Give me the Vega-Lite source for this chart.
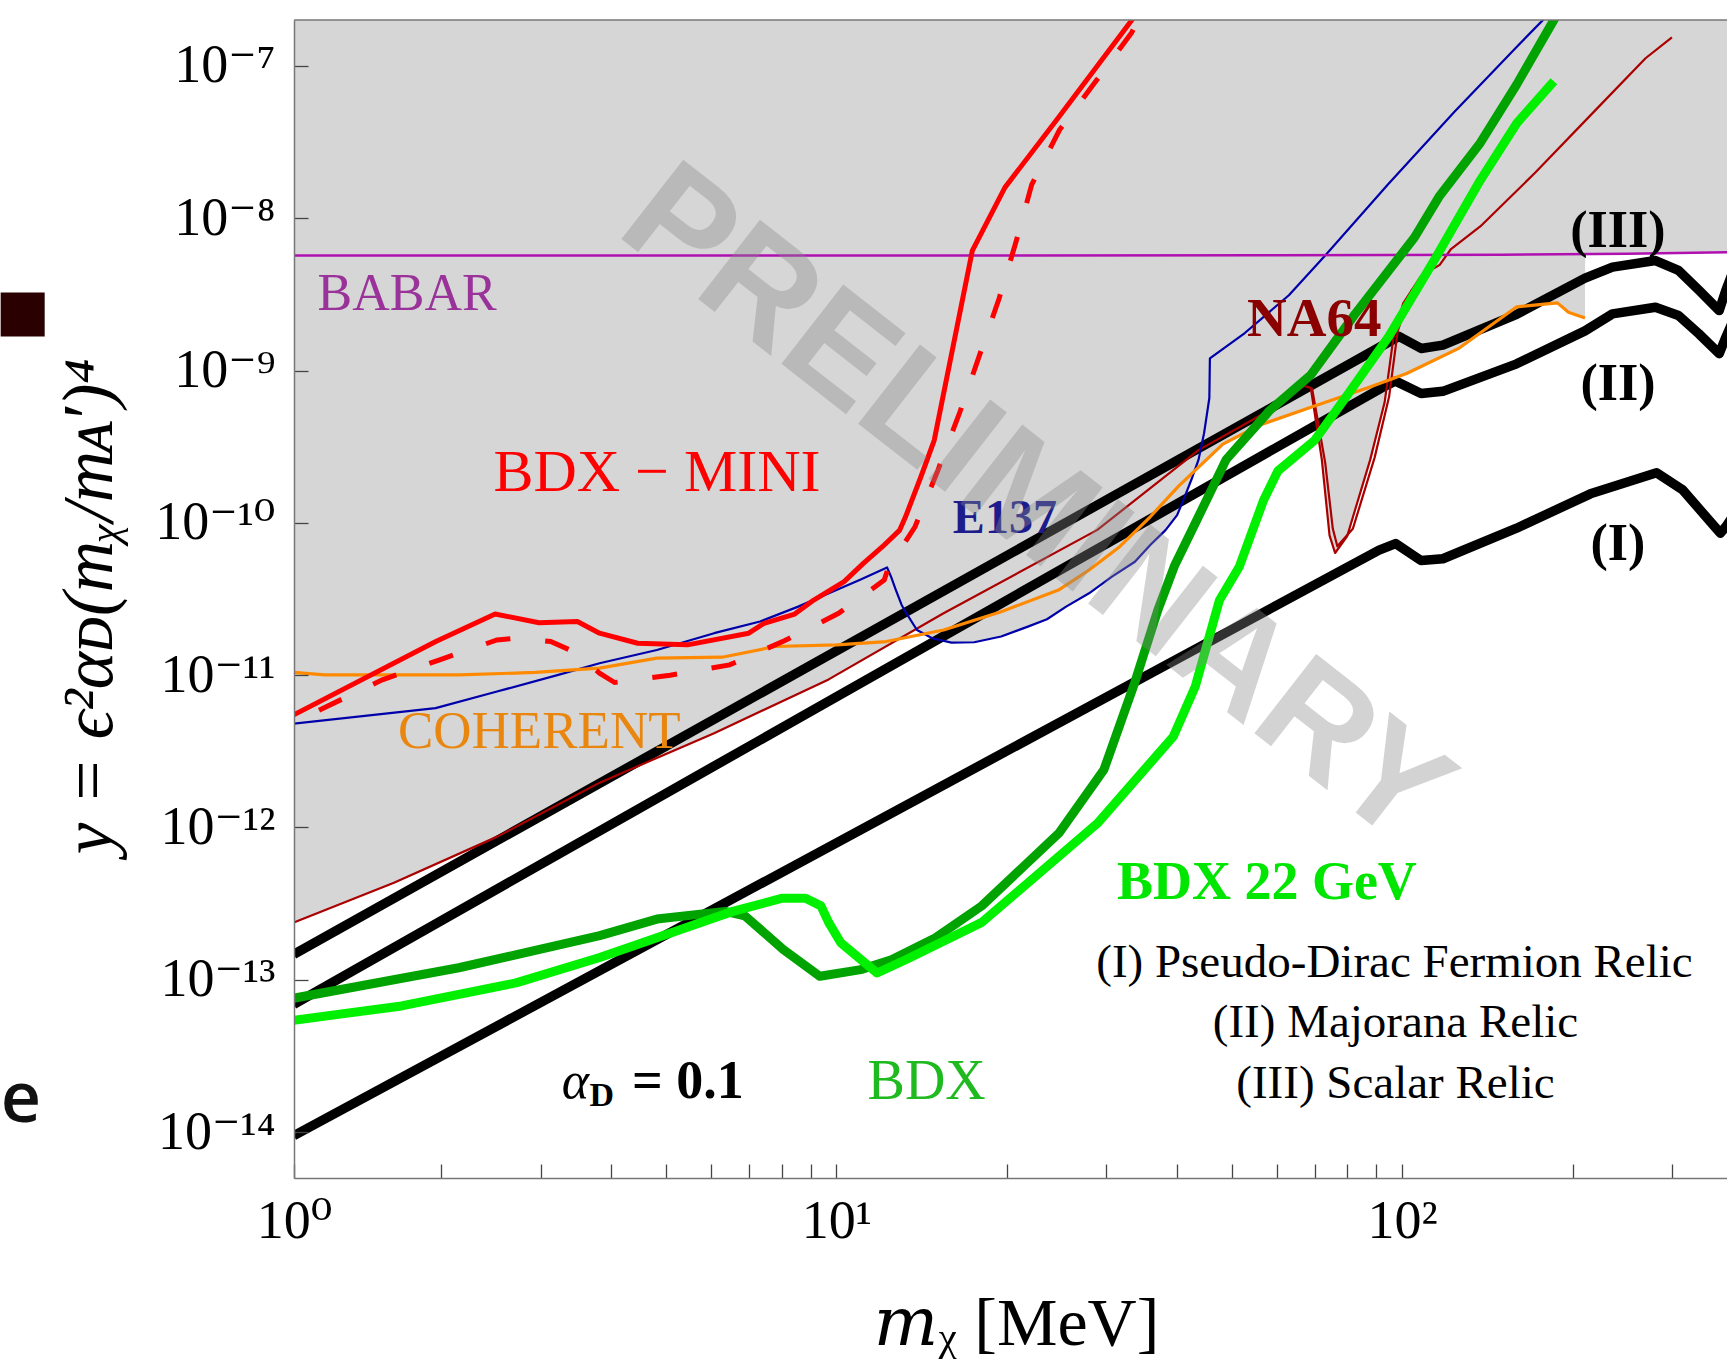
{
  "$schema": "https://vega.github.io/schema/vega-lite/v6.json",
  "width": 1433,
  "height": 1158,
  "autosize": {"type": "none"},
  "padding": {"left": 294, "top": 20, "right": 0, "bottom": 181},
  "background": "white",
  "config": {"view": {"stroke": null}},
  "datasets": {
    "xgrid": [{"x":2},{"x":3},{"x":4},{"x":5},{"x":6},{"x":7},{"x":8},{"x":9},{"x":10},{"x":20},{"x":30},{"x":40},{"x":50},{"x":60},{"x":70},{"x":80},{"x":90},{"x":100},{"x":200},{"x":300}],
    "ygrid": [{"y":6e-15},{"y":8e-15},{"y":1e-14},{"y":2e-14},{"y":4e-14},{"y":6e-14},{"y":8e-14},{"y":1e-13},{"y":2e-13},{"y":4e-13},{"y":6e-13},{"y":8e-13},{"y":1e-12},{"y":2e-12},{"y":4e-12},{"y":6e-12},{"y":8e-12},{"y":1e-11},{"y":2e-11},{"y":4e-11},{"y":6e-11},{"y":8e-11},{"y":1e-10},{"y":2e-10},{"y":4e-10},{"y":6e-10},{"y":8e-10},{"y":1e-9},{"y":2e-9},{"y":4e-9},{"y":6e-9},{"y":8e-9},{"y":1e-8},{"y":2e-8},{"y":4e-8},{"y":6e-8},{"y":8e-8},{"y":1e-7}],
    "excluded": [{"x":1.099,"y":2.38e-13},{"x":1.652,"y":4.34e-13},{"x":2.516,"y":8.71e-13},{"x":3.817,"y":1.97e-12},{"x":6.08,"y":4.16e-12},{"x":9.69,"y":9.38e-12},{"x":13.87,"y":2.0e-11},{"x":14.77,"y":1.747e-11},{"x":15.97,"y":1.637e-11},{"x":17.52,"y":1.645e-11},{"x":19.55,"y":1.794e-11},{"x":21.8,"y":2.083e-11},{"x":23.56,"y":2.328e-11},{"x":25.47,"y":2.818e-11},{"x":27.96,"y":3.446e-11},{"x":30.7,"y":4.43e-11},{"x":33.7,"y":5.55e-11},{"x":35.87,"y":7.15e-11},{"x":38.17,"y":8.96e-11},{"x":40.01,"y":1.123e-10},{"x":41.26,"y":1.48e-10},{"x":42.58,"y":2.0e-10},{"x":42.89,"y":2.17e-10},{"x":48.2,"y":3.29e-10},{"x":55.95,"y":4.38e-10},{"x":67.1,"y":5.59e-10},{"x":69.9,"y":5.98e-10},{"x":72.1,"y":2.6e-10},{"x":74.4,"y":8.28e-11},{"x":76.1,"y":6.34e-11},{"x":79.9,"y":8.14e-11},{"x":87.8,"y":2.6e-10},{"x":93.1,"y":6.18e-10},{"x":94.2,"y":8.62e-10},{"x":101.8,"y":9.55e-10},{"x":125.6,"y":1.391e-9},{"x":159.4,"y":2.62e-9},{"x":188.1,"y":2.78e-9},{"x":196.7,"y":2.41e-9},{"x":210.4,"y":2.21e-9},{"x":210.5,"y":5.83e-9},{"x":250,"y":5.85e-9},{"x":380,"y":5.97e-9}],
    "relic1": [{"x":1.099,"y":9.48e-15},{"x":91.0,"y":6.62e-11},{"x":97.34,"y":7.31e-11},{"x":108.0,"y":5.65e-11},{"x":118.0,"y":5.81e-11},{"x":159.3,"y":9.22e-11},{"x":215.1,"y":1.55e-10},{"x":281.5,"y":2.13e-10},{"x":313.4,"y":1.641e-10},{"x":358.5,"y":9.22e-11},{"x":365.0,"y":8.55e-11},{"x":373.3,"y":9.45e-11},{"x":385,"y":1.116e-10}],
    "relic2": [{"x":1.099,"y":6.91e-14},{"x":91.85,"y":7.67e-10},{"x":97.34,"y":8.52e-10},{"x":108.0,"y":7.06e-10},{"x":118.0,"y":7.3e-10},{"x":159.3,"y":1.106e-9},{"x":210.4,"y":1.82e-9},{"x":235.3,"y":2.355e-9},{"x":280.3,"y":2.6e-9},{"x":307.8,"y":2.297e-9},{"x":334.4,"y":1.743e-9},{"x":363.3,"y":1.289e-9},{"x":373.3,"y":1.656e-9},{"x":385,"y":2.15e-9}],
    "relic3": [{"x":1.099,"y":1.47e-13},{"x":91.85,"y":1.443e-9},{"x":98.67,"y":1.676e-9},{"x":108.0,"y":1.396e-9},{"x":118.0,"y":1.467e-9},{"x":159.3,"y":2.336e-9},{"x":210.4,"y":4.04e-9},{"x":235.3,"y":4.77e-9},{"x":280.3,"y":5.27e-9},{"x":307.8,"y":4.54e-9},{"x":334.4,"y":3.37e-9},{"x":363.3,"y":2.476e-9},{"x":373.3,"y":3.37e-9},{"x":385,"y":4.54e-9}],
    "na64": [{"x":1.099,"y":2.38e-13},{"x":1.652,"y":4.34e-13},{"x":2.516,"y":8.71e-13},{"x":3.817,"y":1.97e-12},{"x":6.08,"y":4.16e-12},{"x":9.69,"y":9.38e-12},{"x":15.44,"y":2.54e-11},{"x":28.92,"y":8.99e-11},{"x":43.66,"y":3.0e-10},{"x":58.4,"y":5.5e-10},{"x":67.1,"y":7.93e-10},{"x":68.95,"y":7.67e-10},{"x":72.1,"y":2.6e-10},{"x":74.4,"y":8.28e-11},{"x":76.1,"y":6.34e-11},{"x":79.9,"y":8.14e-11},{"x":87.8,"y":2.6e-10},{"x":93.1,"y":6.18e-10},{"x":96.5,"y":1.648e-9},{"x":100.4,"y":2.76e-9},{"x":108.0,"y":4.18e-9},{"x":116.5,"y":4.94e-9},{"x":121.8,"y":6.23e-9},{"x":137.4,"y":8.83e-9},{"x":171.9,"y":1.993e-8},{"x":215.1,"y":4.73e-8},{"x":269.2,"y":1.122e-7},{"x":299.7,"y":1.539e-7}],
    "na64b": [{"x":69.27,"y":7.67e-10},{"x":73.1,"y":2.48e-10},{"x":75.4,"y":9.14e-11},{"x":76.8,"y":7.01e-11},{"x":81.8,"y":9.14e-11},{"x":89.4,"y":2.69e-10},{"x":94.8,"y":6.72e-10},{"x":98.2,"y":1.82e-9},{"x":104.1,"y":3.42e-9}],
    "e137": [{"x":1.099,"y":4.8e-12},{"x":1.957,"y":6.08e-12},{"x":2.513,"y":7.81e-12},{"x":3.224,"y":1.004e-11},{"x":3.814,"y":1.197e-11},{"x":4.816,"y":1.464e-11},{"x":6.08,"y":1.886e-11},{"x":7.33,"y":2.249e-11},{"x":8.56,"y":2.818e-11},{"x":9.7,"y":3.446e-11},{"x":10.99,"y":4.214e-11},{"x":12.29,"y":5.1e-11},{"x":12.49,"y":4.43e-11},{"x":12.74,"y":3.62e-11},{"x":13.04,"y":2.89e-11},{"x":13.35,"y":2.485e-11},{"x":13.88,"y":1.98e-11},{"x":14.77,"y":1.747e-11},{"x":15.97,"y":1.637e-11},{"x":17.52,"y":1.645e-11},{"x":19.55,"y":1.794e-11},{"x":21.8,"y":2.083e-11},{"x":23.56,"y":2.328e-11},{"x":25.47,"y":2.818e-11},{"x":27.96,"y":3.446e-11},{"x":30.7,"y":4.43e-11},{"x":33.7,"y":5.55e-11},{"x":35.87,"y":7.15e-11},{"x":38.17,"y":8.96e-11},{"x":40.01,"y":1.123e-10},{"x":41.26,"y":1.48e-10},{"x":42.58,"y":2.0e-10},{"x":43.66,"y":2.6e-10},{"x":44.65,"y":3.88e-10},{"x":45.62,"y":6.6e-10},{"x":45.72,"y":1.201e-9},{"x":52.7,"y":1.762e-9},{"x":63.05,"y":3.12e-9},{"x":73.23,"y":5.73e-9},{"x":94.34,"y":1.666e-8},{"x":123.7,"y":4.99e-8},{"x":159.3,"y":1.332e-7},{"x":177.2,"y":1.995e-7},{"x":185,"y":2.35e-7}],
    "coherent": [{"x":1.099,"y":1.042e-11},{"x":1.247,"y":1.004e-11},{"x":2.151,"y":1.004e-11},{"x":2.937,"y":1.042e-11},{"x":3.814,"y":1.111e-11},{"x":4.816,"y":1.293e-11},{"x":6.28,"y":1.312e-11},{"x":7.8,"y":1.542e-11},{"x":10.01,"y":1.581e-11},{"x":12.25,"y":1.662e-11},{"x":15.47,"y":1.98e-11},{"x":19.55,"y":2.61e-11},{"x":24.69,"y":3.62e-11},{"x":27.97,"y":4.9e-11},{"x":31.67,"y":6.97e-11},{"x":35.87,"y":1.096e-10},{"x":40.25,"y":1.74e-10},{"x":48.2,"y":3.29e-10},{"x":55.95,"y":4.38e-10},{"x":70.0,"y":5.85e-10},{"x":87.7,"y":7.8e-10},{"x":101.8,"y":9.55e-10},{"x":125.6,"y":1.391e-9},{"x":159.4,"y":2.62e-9},{"x":188.1,"y":2.78e-9},{"x":196.7,"y":2.41e-9},{"x":210.4,"y":2.21e-9}],
    "babar": [{"x":1.09,"y":5.68e-9},{"x":60,"y":5.7e-9},{"x":150,"y":5.76e-9},{"x":250,"y":5.85e-9},{"x":380,"y":5.97e-9}],
    "mini": [{"x":1.099,"y":5.49e-12},{"x":1.959,"y":1.662e-11},{"x":2.494,"y":2.52e-11},{"x":2.982,"y":2.21e-11},{"x":3.485,"y":2.249e-11},{"x":3.814,"y":1.886e-11},{"x":4.455,"y":1.621e-11},{"x":5.455,"y":1.581e-11},{"x":7.0,"y":1.886e-11},{"x":7.45,"y":2.19e-11},{"x":8.44,"y":2.52e-11},{"x":9.12,"y":3.11e-11},{"x":10.32,"y":4.11e-11},{"x":11.16,"y":5.42e-11},{"x":12.06,"y":6.97e-11},{"x":12.94,"y":8.96e-11},{"x":13.25,"y":1.096e-10},{"x":14.1,"y":2.0e-10},{"x":14.89,"y":3.48e-10},{"x":17.39,"y":6.13e-9},{"x":19.86,"y":1.593e-8},{"x":24.69,"y":4.58e-8},{"x":33.18,"y":1.969e-7},{"x":34.35,"y":2.34e-7}],
    "minidash": [{"x":1.218,"y":5.89e-12},{"x":1.576,"y":9.32e-12},{"x":1.99,"y":1.261e-11},{"x":2.513,"y":1.703e-11},{"x":2.716,"y":1.747e-11},{"x":3.126,"y":1.662e-11},{"x":3.431,"y":1.428e-11},{"x":3.814,"y":1.031e-11},{"x":4.056,"y":8.95e-12},{"x":5.085,"y":9.99e-12},{"x":6.475,"y":1.168e-11},{"x":8.11,"y":1.687e-11},{"x":10.09,"y":2.547e-11},{"x":12.15,"y":4.21e-11},{"x":12.34,"y":5.03e-11},{"x":13.77,"y":9.42e-11},{"x":15.12,"y":2.22e-10},{"x":16.53,"y":5.34e-10},{"x":17.9,"y":1.257e-9},{"x":19.39,"y":2.97e-9},{"x":20.76,"y":6.95e-9},{"x":22.14,"y":1.66e-8},{"x":24.8,"y":3.8e-8},{"x":28.69,"y":7.85e-8},{"x":33.25,"y":1.65e-7},{"x":34.5,"y":2.2e-7}],
    "bdx": [{"x":1.099,"y":7.57e-14},{"x":2.151,"y":1.2e-13},{"x":3.817,"y":1.95e-13},{"x":4.818,"y":2.505e-13},{"x":6.36,"y":2.814e-13},{"x":6.89,"y":2.633e-13},{"x":7.44,"y":2.052e-13},{"x":8.05,"y":1.586e-13},{"x":9.35,"y":1.055e-13},{"x":11.04,"y":1.166e-13},{"x":12.51,"y":1.354e-13},{"x":14.97,"y":1.888e-13},{"x":18.07,"y":3.058e-13},{"x":24.72,"y":9.16e-13},{"x":29.71,"y":2.4e-12},{"x":33.67,"y":8.92e-12},{"x":36.99,"y":2.67e-11},{"x":39.57,"y":5.2e-11},{"x":43.27,"y":1.027e-10},{"x":48.84,"y":2.6e-10},{"x":58.4,"y":5.5e-10},{"x":68.95,"y":9.37e-10},{"x":82.5,"y":2.34e-9},{"x":105.1,"y":7.47e-9},{"x":116.5,"y":1.406e-8},{"x":137.4,"y":3.12e-8},{"x":159.3,"y":7.53e-8},{"x":185.5,"y":2.01e-7},{"x":192.3,"y":2.45e-7}],
    "bdx22": [{"x":1.099,"y":5.43e-14},{"x":1.704,"y":6.74e-14},{"x":2.716,"y":9.55e-14},{"x":3.817,"y":1.4e-13},{"x":5.2,"y":2.086e-13},{"x":6.56,"y":2.814e-13},{"x":8.03,"y":3.435e-13},{"x":8.82,"y":3.435e-13},{"x":9.39,"y":3.058e-13},{"x":9.69,"y":2.383e-13},{"x":10.18,"y":1.752e-13},{"x":11.8,"y":1.109e-13},{"x":13.26,"y":1.355e-13},{"x":18.07,"y":2.383e-13},{"x":28.92,"y":1.063e-12},{"x":39.39,"y":3.95e-12},{"x":43.08,"y":8.42e-12},{"x":47.53,"y":3.1e-11},{"x":51.53,"y":5.15e-11},{"x":56.88,"y":1.408e-10},{"x":60.29,"y":2.19e-10},{"x":70.0,"y":3.48e-10},{"x":80.1,"y":6.94e-10},{"x":94.5,"y":1.654e-9},{"x":114.8,"y":5.56e-9},{"x":137.3,"y":1.765e-8},{"x":159.4,"y":4.2e-8},{"x":185.4,"y":7.92e-8}]
  },
  "encoding": {
    "x": {
      "field": "x", "type": "quantitative",
      "scale": {"type": "log", "domain": [1.1, 375], "nice": false},
      "axis": {
        "zindex": 1,
        "values": [1.1,2,3,4,5,6,7,8,9,10,20,30,40,50,60,70,80,90,100,200,300],
        "labelExpr": "datum.value == 10 ? '10¹' : datum.value == 100 ? '10²' : datum.value < 1.5 ? '10⁰' : ''",
        "labelFont": "Liberation Serif, DejaVu Serif", "labelFontSize": 54, "labelColor": "#000000",
        "labelPadding": 30, "labelFlush": false, "labelOverlap": false, "labelBound": false,
        "tickSize": -14, "tickColor": "#444444", "tickWidth": 1.3,
        "domainColor": "#777777", "domainWidth": 1.5,
        "grid": false,
        "title": "𝑚ᵪ [MeV]", "titleFont": "Liberation Serif, DejaVu Serif", "titleFontSize": 68, "titleFontWeight": "normal", "titleColor": "#000000",
        "titleX": 722, "titleY": 166, "titleAlign": "center", "titleBaseline": "alphabetic", "titleAngle": 0
      }
    },
    "y": {
      "field": "y", "type": "quantitative",
      "scale": {"type": "log", "domain": [5e-15, 2e-7], "nice": false},
      "axis": {
        "zindex": 1,
        "values": [1e-14,1e-13,1e-12,1e-11,1e-10,1e-9,1e-8,1e-7],
        "labelExpr": "datum.value == 1e-7 ? '10⁻⁷' : datum.value == 1e-8 ? '10⁻⁸' : datum.value == 1e-9 ? '10⁻⁹' : datum.value == 1e-10 ? '10⁻¹⁰' : datum.value == 1e-11 ? '10⁻¹¹' : datum.value == 1e-12 ? '10⁻¹²' : datum.value == 1e-13 ? '10⁻¹³' : datum.value == 1e-14 ? '10⁻¹⁴' : ''",
        "labelFont": "Liberation Serif, DejaVu Serif", "labelFontSize": 54, "labelColor": "#000000",
        "labelPadding": 33, "labelFlush": false, "labelOverlap": false, "labelBound": false,
        "tickSize": -14, "tickColor": "#444444", "tickWidth": 1.3,
        "domainColor": "#777777", "domainWidth": 1.5,
        "grid": false,
        "title": "y = ϵ²αᴅ(mᵪ/mᴀ′)⁴", "titleFont": "Liberation Serif, DejaVu Serif", "titleFontStyle": "italic", "titleFontSize": 71, "titleFontWeight": "normal", "titleColor": "#000000",
        "titleX": -204, "titleY": 586, "titleAngle": -90, "titleAlign": "center", "titleBaseline": "middle"
      }
    }
  },
  "layer": [
    {"data": {"name": "xgrid"}, "mark": {"type": "rule", "color": "#ececec", "strokeWidth": 1.2}, "encoding": {"y": {"datum": 5e-15}, "y2": {"datum": 2e-7}}},
    {"data": {"name": "ygrid"}, "mark": {"type": "rule", "color": "#ececec", "strokeWidth": 1.2}, "encoding": {"x": {"datum": 1.1}, "x2": {"datum": 375}}},
    {"data": {"name": "excluded"}, "mark": {"type": "area", "color": "#d6d6d6", "clip": true}, "encoding": {"y2": {"datum": 2e-7}}},
    {"data": {"name": "relic1"}, "mark": {"type": "line", "color": "#000000", "strokeWidth": 9.5, "clip": true, "strokeJoin": "round"}},
    {"data": {"name": "relic2"}, "mark": {"type": "line", "color": "#000000", "strokeWidth": 9.5, "clip": true, "strokeJoin": "round"}},
    {"data": {"name": "relic3"}, "mark": {"type": "line", "color": "#000000", "strokeWidth": 9.5, "clip": true, "strokeJoin": "round"}},
    {"data": {"name": "na64"}, "mark": {"type": "line", "color": "#aa0000", "strokeWidth": 2.2, "clip": true, "strokeJoin": "round"}},
    {"data": {"name": "na64b"}, "mark": {"type": "line", "color": "#aa0000", "strokeWidth": 2.2, "clip": true, "strokeJoin": "round"}},
    {"data": {"name": "e137"}, "mark": {"type": "line", "color": "#0000aa", "strokeWidth": 2.2, "clip": true, "strokeJoin": "round"}},
    {"data": {"name": "coherent"}, "mark": {"type": "line", "color": "#ff8a00", "strokeWidth": 3.2, "clip": true, "strokeJoin": "round"}},
    {"data": {"name": "babar"}, "mark": {"type": "line", "color": "#b010b0", "strokeWidth": 2.5, "clip": true}},
    {"data": {"name": "minidash"}, "mark": {"type": "line", "color": "#ff0000", "strokeWidth": 5, "strokeDash": [25, 35], "clip": true}},
    {"data": {"name": "mini"}, "mark": {"type": "line", "color": "#ff0000", "strokeWidth": 5, "clip": true, "strokeJoin": "round"}},
    {"data": {"name": "bdx"}, "mark": {"type": "line", "color": "#00a300", "strokeWidth": 9, "clip": true, "strokeJoin": "round"}},
    {"data": {"name": "bdx22"}, "mark": {"type": "line", "color": "#00f000", "strokeWidth": 9, "clip": true, "strokeJoin": "round"}},
    {"data": {"values": [{"x": 1.1, "x2": 375, "y": 2e-7}]}, "mark": {"type": "rule", "color": "#777777", "strokeWidth": 1.5}, "encoding": {"x2": {"field": "x2"}}},
    {"data": {"values": [{"x": 1.743, "y": 3.2e-9, "t": "BABAR"}]}, "mark": {"type": "text", "font": "Liberation Serif", "fontSize": 52, "color": "#993399", "align": "center", "baseline": "middle"}, "encoding": {"text": {"field": "t"}}},
    {"data": {"values": [{"x": 4.818, "y": 2.134e-10, "t": "BDX − MINI"}]}, "mark": {"type": "text", "font": "Liberation Serif", "fontSize": 60, "color": "#ff0000", "align": "center", "baseline": "middle"}, "encoding": {"text": {"field": "t"}}},
    {"data": {"values": [{"x": 19.85, "y": 1.062e-10, "t": "E137"}]}, "mark": {"type": "text", "font": "Liberation Serif", "fontSize": 48, "fontWeight": "bold", "color": "#1c1c8c", "align": "center", "baseline": "middle"}, "encoding": {"text": {"field": "t"}}},
    {"data": {"values": [{"x": 2.984, "y": 4.22e-12, "t": "COHERENT"}]}, "mark": {"type": "text", "font": "Liberation Serif", "fontSize": 53, "color": "#e8860f", "align": "center", "baseline": "middle"}, "encoding": {"text": {"field": "t"}}},
    {"data": {"values": [{"x": 69.9, "y": 2.186e-9, "t": "NA64"}]}, "mark": {"type": "text", "font": "Liberation Serif", "fontSize": 55, "fontWeight": "bold", "color": "#8b0000", "align": "center", "baseline": "middle"}, "encoding": {"text": {"field": "t"}}},
    {"data": {"values": [{"x": 240.6, "y": 8.26e-9, "t": "(III)"}, {"x": 240.6, "y": 8.2e-10, "t": "(II)"}, {"x": 240.6, "y": 7.24e-11, "t": "(I)"}]}, "mark": {"type": "text", "font": "Liberation Serif", "fontSize": 52, "fontWeight": "bold", "color": "#000000", "align": "center", "baseline": "middle"}, "encoding": {"text": {"field": "t"}}},
    {"data": {"values": [{"x": 57.65, "y": 4.34e-13, "t": "BDX 22 GeV"}]}, "mark": {"type": "text", "font": "Liberation Serif", "fontSize": 54, "fontWeight": "bold", "color": "#00e600", "align": "center", "baseline": "middle"}, "encoding": {"text": {"field": "t"}}},
    {"data": {"values": [{"x": 14.44, "y": 2.14e-14, "t": "BDX"}]}, "mark": {"type": "text", "font": "Liberation Serif", "fontSize": 56, "color": "#1fba1f", "align": "center", "baseline": "middle"}, "encoding": {"text": {"field": "t"}}},
    {"data": {"values": [{"x": 3.458, "y": 2.14e-14, "t": "α"}]}, "mark": {"type": "text", "font": "Liberation Serif", "fontSize": 52, "fontStyle": "italic", "color": "#000000", "align": "center", "baseline": "middle"}, "encoding": {"text": {"field": "t"}}},
    {"data": {"values": [{"x": 3.851, "y": 1.725e-14, "t": "D"}]}, "mark": {"type": "text", "font": "Liberation Serif", "fontSize": 34, "fontWeight": "bold", "color": "#000000", "align": "center", "baseline": "middle"}, "encoding": {"text": {"field": "t"}}},
    {"data": {"values": [{"x": 5.463, "y": 2.14e-14, "t": "= 0.1"}]}, "mark": {"type": "text", "font": "Liberation Serif", "fontSize": 54, "fontWeight": "bold", "color": "#000000", "align": "center", "baseline": "middle"}, "encoding": {"text": {"field": "t"}}},
    {"data": {"values": [{"x": 96.9, "y": 1.289e-13, "t": "(I) Pseudo-Dirac Fermion Relic"}, {"x": 97.3, "y": 5.17e-14, "t": "(II) Majorana Relic"}, {"x": 97.3, "y": 2.07e-14, "t": "(III) Scalar Relic"}]}, "mark": {"type": "text", "font": "Liberation Serif", "fontSize": 47, "color": "#000000", "align": "center", "baseline": "middle"}, "encoding": {"text": {"field": "t"}}},
    {"data": {"values": [{"x": 22.45, "y": 1.285e-10, "t": "PRELIMINARY"}]}, "mark": {"type": "text", "font": "Liberation Sans", "fontSize": 146, "fontWeight": "bold", "angle": 38, "color": "#898989", "opacity": 0.37, "align": "center", "baseline": "middle"}, "encoding": {"text": {"field": "t"}}},
    {"data": {"values": [{"x": 0.3334, "x2": 0.3988, "y": 1.673e-9, "y2": 3.25e-9}]}, "mark": {"type": "rect", "color": "#2a0000", "clip": false}, "encoding": {"x2": {"field": "x2"}, "y2": {"field": "y2"}}},
    {"data": {"values": [{"x": 0.362, "y": 1.6e-14, "t": "e"}]}, "mark": {"type": "text", "font": "Open Sans", "fontSize": 70, "fontWeight": 600, "color": "#111111", "align": "center", "baseline": "middle"}, "encoding": {"text": {"field": "t"}}}
  ]
}
